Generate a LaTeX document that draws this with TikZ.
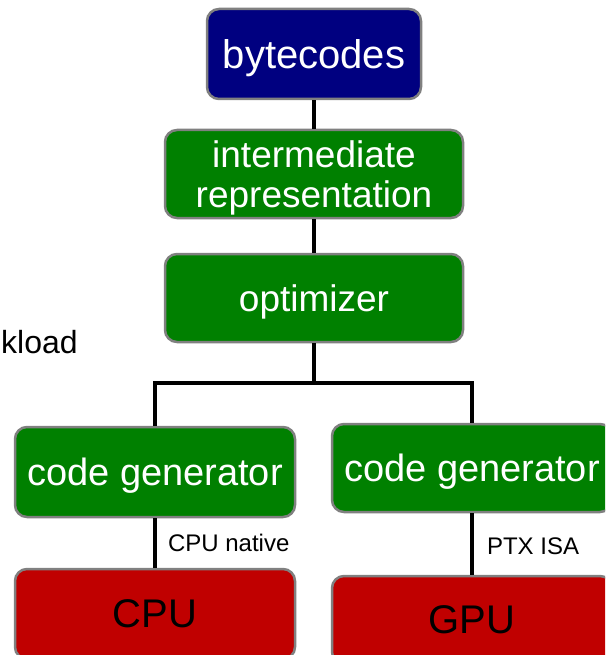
\documentclass[tikz,border=0pt]{standalone}
\usepackage{fontspec}
\setmainfont{Liberation Sans}
\definecolor{boxnavy}{RGB}{0,0,128}
\definecolor{boxgreen}{RGB}{0,128,0}
\definecolor{boxred}{RGB}{192,0,0}
\definecolor{boxedge}{RGB}{128,128,128}
\tikzset{
  stage/.style={draw=boxedge, line width=2.5pt, rounded corners=12pt,
    minimum width=280pt, minimum height=88pt, inner sep=0pt, align=center,
    text depth=0pt, font=\fontsize{37}{40}\selectfont},
  frontbox/.style={stage, fill=boxnavy, text=white},
  passbox/.style={stage, fill=boxgreen, text=white},
  targetbox/.style={stage, fill=boxred, text=black},
  link/.style={line width=4pt, black},
  linklabel/.style={anchor=west, inner sep=0pt, font=\fontsize{24}{26}\selectfont}
}
\begin{document}
\begin{tikzpicture}[x=1pt, y=-1pt]
  \useasboundingbox (0,0) rectangle (605,655);
  \clip (0,0) rectangle (605,655);

  % caption at the left edge
  \node[anchor=base west, inner sep=0pt, font=\fontsize{32}{36}\selectfont] (caption) at (1,353) {kload};

  % compilation pipeline
  \node[frontbox, minimum width=214pt, minimum height=90pt, font=\fontsize{40}{44}\selectfont] (byte) at (314,54) {bytecodes};
  \node[passbox, minimum width=298pt] (ir) at (314,174) {intermediate\\representation};
  \node[passbox, minimum width=298pt] (opt) at (314,298) {optimizer};
  \node[passbox, minimum height=90pt, font=\fontsize{38}{42}\selectfont] (cgcpu) at (155,472) {code generator};
  \node[passbox, font=\fontsize{38}{42}\selectfont] (cggpu) at (472,468) {code generator};
  \node[targetbox, minimum height=90pt, font=\fontsize{40}{44}\selectfont] (cpu) at (155,614) {CPU};
  \node[targetbox, font=\fontsize{40}{44}\selectfont] (gpu) at (472,620) {GPU};

  \coordinate (split) at (314,383);

  \draw[link] (byte) -- (ir);
  \draw[link] (ir) -- (opt);
  \draw[link] (opt) -- (split);
  \draw[link, line join=miter] (split) -| (cgcpu);
  \draw[link, line join=miter] (split) -| (cggpu);
  \draw[link] (cgcpu) -- node[linklabel, xshift=11pt] {CPU native} (cpu);
  \draw[link] (cggpu) -- node[linklabel, xshift=13pt, yshift=-2pt] {PTX ISA} (gpu);
\end{tikzpicture}
\end{document}
